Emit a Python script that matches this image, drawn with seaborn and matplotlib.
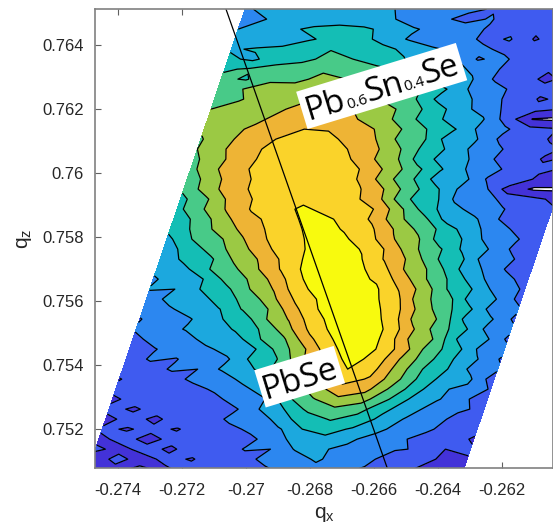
import numpy as np
import matplotlib
matplotlib.use("Agg")
import matplotlib.pyplot as plt
from matplotlib.patches import Rectangle
from matplotlib.transforms import Affine2D, IdentityTransform
import seaborn as sns

# intensity band values, rows from top (qz max) to bottom,
# columns run along the sheared scan from the left edge of the parallelogram
band_rows = [
 [2.9,3.2,3.5,3.6,3.6,3.4,3.0,2.8,2.5,2.2,1.9,1.6,1.1,1.4,0.9,1.2],
 [2.9,3.0,3.3,3.4,3.7,3.3,3.1,2.5,2.2,1.7,2.1,1.0,1.6,0.9,1.3,0.9],
 [3.0,3.4,3.8,4.2,4.2,4.2,3.7,3.1,2.7,2.5,1.9,1.7,1.2,1.5,1.1,1.3],
 [3.1,3.3,3.5,3.9,4.3,4.5,3.5,2.9,2.3,2.6,1.7,2.1,0.9,1.5,0.8,1.2],
 [3.9,4.1,4.2,4.7,4.95,4.8,4.4,3.7,3.2,2.7,2.3,1.6,1.5,1.0,1.3,0.9],
 [4.2,3.8,4.6,4.7,5.3,5.0,4.3,4.1,2.9,3.2,1.9,2.3,1.1,1.6,0.8,1.3],
 [4.9,5.1,5.3,5.6,5.8,5.7,5.4,4.8,4.2,3.4,2.8,2.0,1.7,1.1,1.3,0.9],
 [5.2,4.9,5.9,5.7,6.3,6.0,5.7,4.7,4.5,3.1,3.1,1.8,1.4,0.8,1.3,0.8],
 [5.7,6.0,6.2,6.5,6.7,6.6,6.4,5.9,5.1,4.2,3.0,2.5,1.6,1.3,1.0,1.1],
 [5.9,5.9,6.5,6.6,7.0,6.7,6.4,5.6,5.1,3.7,3.4,2.1,1.9,0.9,1.2,0.8],
 [6.0,6.4,6.7,7.0,7.3,7.2,6.9,6.4,5.4,4.5,3.3,2.6,1.6,1.3,1.0,1.1],
 [6.1,6.7,6.8,7.4,7.5,7.7,7.0,6.5,5.2,4.6,3.1,3.1,1.5,-0.05,-0.2,0.8],
 [6.2,6.7,7.2,7.6,8.0,7.9,7.4,6.9,5.9,4.9,4.1,2.8,2.2,1.3,1.1,0.9],
 [5.9,6.9,7.2,8.0,8.2,8.4,7.6,7.0,5.7,5.0,3.4,3.1,1.8,1.7,0.9,1.1],
 [6.0,6.9,7.6,8.3,8.6,8.6,8.0,7.3,6.2,4.8,3.9,2.8,2.2,1.3,1.2,0.8],
 [5.8,6.7,7.8,8.2,8.6,8.6,8.3,7.2,6.3,4.6,3.6,3.0,2.0,1.6,0.9,1.1],
 [5.7,6.9,7.8,8.4,8.6,8.7,8.6,7.8,6.6,5.3,4.1,3.0,2.4,1.5,1.2,0.9],
 [5.2,6.7,7.5,8.4,8.6,8.7,8.7,7.8,6.3,5.1,3.6,3.4,1.9,1.9,0.8,1.1],
 [5.2,6.6,7.6,8.3,8.6,8.7,8.7,8.1,7.0,5.5,4.3,2.9,2.3,0.5,-0.15,-0.2],
 [4.7,5.8,7.3,8.1,8.6,8.7,8.8,8.2,7.1,5.1,4.6,2.8,2.7,1.6,1.3,0.8],
 [4.7,5.9,7.1,8.1,8.5,9.2,8.7,8.6,7.9,6.1,4.4,3.4,2.5,2.1,1.2,1.1],
 [4.4,5.3,6.7,7.7,8.3,9.0,9.2,8.7,7.8,6.2,5.3,3.5,3.2,2.0,1.9,1.0],
 [4.3,5.2,6.4,7.3,8.2,8.85,9.4,8.9,8.2,6.9,5.7,4.6,3.3,2.6,1.6,1.4],
 [3.7,5.0,5.7,6.9,8.0,8.7,9.3,9.2,8.5,7.1,6.2,4.4,3.9,2.4,2.1,1.1],
 [3.6,4.3,5.5,6.5,7.7,8.6,9.2,9.5,8.9,7.8,6.2,5.2,3.8,3.0,1.8,1.5],
 [3.1,4.3,4.8,6.2,7.1,8.3,9.3,9.5,9.1,7.9,6.8,5.1,4.3,2.5,2.2,1.1],
 [3.4,3.6,4.9,5.7,6.9,8.1,9.3,9.6,9.3,8.4,6.8,5.8,4.1,3.0,1.9,1.5],
 [2.8,3.8,4.0,5.4,6.2,7.6,9.0,9.5,9.4,8.8,7.4,5.9,4.7,3.2,2.4,1.5],
 [3.1,3.0,4.0,4.7,6.0,7.1,8.8,9.4,9.6,9.2,7.9,6.5,4.8,3.9,2.4,1.9],
 [2.3,3.4,3.2,4.7,5.2,6.7,8.2,9.2,9.6,9.3,8.3,6.3,5.5,3.5,3.0,1.6],
 [2.6,2.8,3.6,3.9,5.1,6.0,7.7,9.0,9.6,9.5,8.5,6.8,5.4,4.3,2.5,2.2],
 [1.9,3.0,2.9,3.9,4.2,5.9,7.1,8.7,9.5,9.6,8.7,6.7,5.9,3.8,3.2,1.8],
 [2.2,2.4,3.1,3.1,4.2,5.1,6.6,8.3,9.4,9.7,8.9,7.2,5.6,4.4,2.8,2.3],
 [1.5,2.7,2.4,3.5,3.4,4.9,5.8,7.7,9.0,9.6,8.9,7.0,6.0,3.9,3.4,1.8],
 [1.9,1.9,2.8,2.7,3.5,3.9,5.4,6.9,8.7,9.6,8.9,7.4,5.5,4.5,2.8,2.4],
 [1.1,2.2,1.9,3.0,2.8,4.2,4.9,6.8,8.3,9.4,8.6,6.9,5.4,4.1,3.1,1.9],
 [1.8,1.3,2.2,2.0,3.2,3.6,5.1,6.6,8.0,9.0,8.3,6.6,5.0,4.0,2.7,2.2],
 [0.9,1.9,1.3,2.4,2.1,3.5,3.9,6.0,7.3,8.4,7.9,6.4,4.8,3.6,3.2,1.4],
 [1.5,1.2,1.9,1.4,2.3,2.5,3.8,5.2,6.6,7.6,7.3,5.8,4.4,3.1,2.8,1.9],
 [0.7,1.6,1.0,2.0,1.5,2.7,2.8,4.8,5.9,6.8,6.4,5.1,3.8,3.1,2.3,1.2],
 [1.4,0.8,1.6,1.2,1.9,1.8,3.0,4.0,5.3,5.8,5.4,4.2,3.5,2.5,2.3,1.6],
 [0.6,1.5,0.7,1.8,1.2,2.3,2.0,3.7,4.4,5.1,4.6,3.8,2.9,2.9,1.5,1.3],
 [1.2,0.9,1.3,0.9,1.7,1.6,2.3,2.8,4.0,4.3,3.9,3.3,2.5,2.3,1.2,1.5],
 [0.7,1.4,0.6,1.4,1.1,1.9,1.7,2.6,3.4,3.8,3.2,2.6,2.3,1.4,1.8,0.8],
 [1.2,0.7,1.4,0.8,1.6,1.3,2.1,2.0,3.1,3.1,2.8,2.1,2.1,1.9,1.0,1.2],
 [0.4,1.3,0.6,1.3,0.9,1.8,1.5,2.4,2.4,3.2,2.3,2.3,1.4,1.6,0.8,0.9],
 [0.8,0.7,1.2,0.8,1.4,1.3,1.9,1.8,2.5,2.6,2.3,1.9,1.6,1.0,0.9,0.7],
]

band_colors = ["#4332D8","#3F5BF0","#2C87F0","#1CA8DE","#14BEB5","#48CA88","#9BC944","#EEB435","#FAD32A","#F8FA0E"]
band_levels = [0,1,2,3,4,5,6,7,8,9,10]
qx_ticks = [-0.274,-0.272,-0.27,-0.268,-0.266,-0.264,-0.262]
qz_ticks = [0.752,0.754,0.756,0.758,0.76,0.762,0.764]
line_qx = [-0.270625,-0.26559]
line_qz = [0.76513,0.7508]

PX = 32000.0
qz_top = 0.76513
qx_top_left = -0.27003
shear = 0.34
Z = np.array(band_rows)
nr, nc = Z.shape
qz_rows = qz_top - np.arange(nr) * 10 / PX
offsets = np.arange(nc) * 25 / PX
QZ = np.repeat(qz_rows[:, None], nc, axis=1)
QX = qx_top_left + shear * (qz_rows[:, None] - qz_top) + offsets[None, :]

sns.set_theme(style="white")
plt.rcParams["font.family"] = ["Liberation Sans", "DejaVu Sans"]
plt.rcParams["mathtext.default"] = "regular"

fig = plt.figure(figsize=(5.53, 5.29), dpi=100)
ax = fig.add_axes([95/553, (529-467.7)/529, 458/553, (467.7-9.3)/529])
palette = sns.color_palette(band_colors)
ax.contourf(QX, QZ, Z, levels=band_levels, colors=palette)
ax.contour(QX, QZ, Z, levels=band_levels[:-1], colors="black", linewidths=0.9)
sns.lineplot(x=line_qx, y=line_qz, color="black", lw=0.9, ax=ax, sort=False, estimator=None)

ax.set_xlim(-0.274 - 23/PX, -0.274 + 435/PX)
ax.set_ylim(0.764 - (467.7-45.3)/PX, 0.764 + 36/PX)
ax.set_xticks(qx_ticks)
ax.set_xticklabels([f"{v:g}" for v in qx_ticks])
ax.set_yticks(qz_ticks)
ax.set_yticklabels([f"{v:g}" for v in qz_ticks])
ax.tick_params(direction="in", length=4.5, width=0.8, color="#606060", labelcolor="#262626",
               labelsize=12, top=True, bottom=True, left=True, right=False)
ax.tick_params(axis="x", pad=11)
ax.tick_params(axis="y", pad=8)
for s in ax.spines.values():
    s.set_color("#808080"); s.set_linewidth(1.2); s.set_visible(True); s.set_zorder(6)
ax.set_xlabel("q$_x$", fontsize=15, color="#262626", labelpad=5)
ax.set_ylabel("q$_z$", fontsize=15, color="#262626", labelpad=6)

fig.canvas.draw()
renderer = fig.canvas.get_renderer()

def label(cx, cy, w, h, parts):
    """white rotated box with text pieces along its baseline; centre given in image pixels"""
    tf = Affine2D().rotate_deg(17).translate(cx, 529 - cy)
    ax.add_patch(Rectangle((-w/2, -h/2), w, h, transform=tf, fc="white", ec="none", zorder=5, clip_on=False))
    widths = []
    for s, fs, dy in parts:
        t = fig.text(0, 0, s, family="Open Sans", fontsize=fs)
        widths.append(t.get_window_extent(renderer).width)
        t.remove()
    xpos = -sum(widths) / 2
    for (s, fs, dy), wd in zip(parts, widths):
        px, py = tf.transform((xpos, -11 + dy))
        ax.text(px, py, s, transform=IdentityTransform(), family="Open Sans", fontsize=fs, color="black",
                rotation=17, rotation_mode="anchor", ha="left", va="baseline", zorder=6, clip_on=False)
        xpos += wd

label(381.7, 86, 167, 39, [("Pb", 24, 0), ("0.6", 11, -1), ("Sn", 24, 0), ("0.4", 11, -1), ("Se", 24, 0)])
label(299.7, 376.7, 83, 39, [("PbSe", 24, 0)])
fig.savefig("out.png", dpi=100)
